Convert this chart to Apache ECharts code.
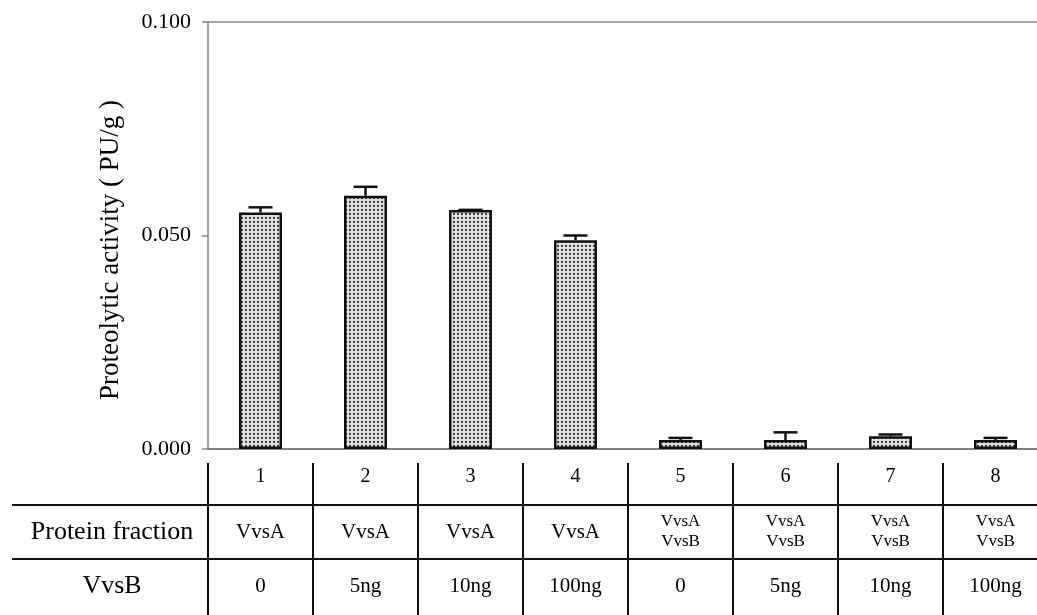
<!DOCTYPE html>
<html><head><meta charset="utf-8">
<script src="https://cdn.jsdelivr.net/npm/echarts@6/dist/echarts.min.js"></script>
<style>html,body{margin:0;padding:0;background:#fff}#c{width:1037px;height:615px}</style>
</head><body><div id="c"></div>
<script>
var categories = ['1','2','3','4','5','6','7','8'];
var activity = [0.0554, 0.0593, 0.0560, 0.0489, 0.0021, 0.0021, 0.0030, 0.0021];
var errorTop = [0.0566, 0.0614, 0.0560, 0.0500, 0.0026, 0.0039, 0.0034, 0.0026];
var proteinFraction = ['VvsA','VvsA','VvsA','VvsA','VvsA\nVvsB','VvsA\nVvsB','VvsA\nVvsB','VvsA\nVvsB'];
var vvsbAmount = ['0','5ng','10ng','100ng','0','5ng','10ng','100ng'];
var rowNames = ['', 'Protein fraction', 'VvsB', ''];
var yTicks = [0, 0.05, 0.1];

var pc = document.createElement('canvas');
pc.width = 4; pc.height = 4;
var g = pc.getContext('2d');
g.fillStyle = '#e4e4e4'; g.fillRect(0,0,4,4);
g.fillStyle = '#3a3a3a'; g.beginPath(); g.arc(2,2,1.15,0,Math.PI*2); g.fill();

var serif = 'Liberation Serif';
var chart = echarts.init(document.getElementById('c'));
chart.setOption({
  animation: false,
  grid: [
    {left: 208, top: 22, width: 840, height: 427, outerBoundsMode: 'none', containLabel: false},
    {left: 12, top: 451, width: 1036, height: 216, outerBoundsMode: 'none', containLabel: false}
  ],
  xAxis: [
    {type: 'category', data: categories, gridIndex: 0, position: 'bottom',
     axisLine: {lineStyle: {color: '#555', width: 1.5}}, axisTick: {show: false},
     axisLabel: {fontFamily: serif, fontSize: 20, color: '#000', margin: 28, verticalAlign: 'middle'}},
    {type: 'category', data: categories, gridIndex: 0, position: 'top',
     axisLine: {lineStyle: {color: '#888', width: 1.5}}, axisTick: {show: false}, axisLabel: {show: false}},
    {type: 'category', data: proteinFraction, gridIndex: 0, position: 'bottom', offset: 0,
     axisLine: {show: false}, axisTick: {show: false},
     axisLabel: {color: '#000', margin: 83, verticalAlign: 'middle', interval: 0,
       formatter: function (v) { return v.indexOf('\n') >= 0 ? '{s|' + v.split('\n').join('}\n{s|') + '}' : '{b|' + v + '}'; },
       rich: {
         b: {fontFamily: serif, fontSize: 21, color: '#000', lineHeight: 24},
         s: {fontFamily: serif, fontSize: 17, color: '#000', lineHeight: 20}
       }}},
    {type: 'category', data: vvsbAmount, gridIndex: 0, position: 'bottom', offset: 0,
     axisLine: {show: false}, axisTick: {show: false},
     axisLabel: {fontFamily: serif, fontSize: 21, color: '#000', margin: 137, verticalAlign: 'middle', interval: 0}},
    {type: 'category', data: categories, gridIndex: 0, position: 'bottom', offset: 14,
     axisLine: {show: false}, axisLabel: {show: false},
     axisTick: {show: true, length: 160, lineStyle: {color: '#111', width: 2}}},
    {type: 'value', gridIndex: 1, show: false}
  ],
  yAxis: [
    {type: 'value', gridIndex: 0, min: 0, max: 0.1, interval: 0.05,
     name: 'Proteolytic activity ( PU/g )', nameLocation: 'middle', nameGap: 84,
     nameTextStyle: {fontFamily: serif, fontSize: 27, color: '#000', padding: [0, 29, 0, 0]},
     axisLine: {show: true, lineStyle: {color: '#888', width: 1.5}},
     axisTick: {show: true, length: 6, lineStyle: {color: '#888', width: 1.5}},
     splitLine: {show: false},
     axisLabel: {fontFamily: serif, fontSize: 22, color: '#000', margin: 17,
       formatter: function (v) { return v.toFixed(3); }}},
    {type: 'category', gridIndex: 1, data: rowNames, inverse: true,
     axisLine: {show: false}, axisTick: {show: false},
     splitLine: {show: true, interval: function (i) { return i === 1 || i === 2; },
       lineStyle: {color: '#111', width: 2}},
     axisLabel: {inside: true, align: 'center', margin: 100, fontFamily: serif, fontSize: 26, color: '#000'}}
  ],
  series: [
    {type: 'bar', xAxisIndex: 0, yAxisIndex: 0, data: activity, barWidth: 43,
     itemStyle: {color: {image: pc, repeat: 'repeat'}, borderColor: '#111', borderWidth: 2.5}},
    {type: 'custom', xAxisIndex: 0, yAxisIndex: 0,
     data: activity.map(function (v, i) { return [i, v, errorTop[i]]; }),
     renderItem: function (params, api) {
       var p0 = api.coord([api.value(0), api.value(1)]);
       var p1 = api.coord([api.value(0), api.value(2)]);
       var hw = 12;
       return {type: 'group', children: [
         {type: 'line', shape: {x1: p0[0], y1: p0[1], x2: p1[0], y2: p1[1]}, style: {stroke: '#111', lineWidth: 2.5}},
         {type: 'line', shape: {x1: p1[0]-hw, y1: p1[1], x2: p1[0]+hw, y2: p1[1]}, style: {stroke: '#111', lineWidth: 2.5}}
       ]};
     }, z: 3}
  ]
});
</script></body></html>
